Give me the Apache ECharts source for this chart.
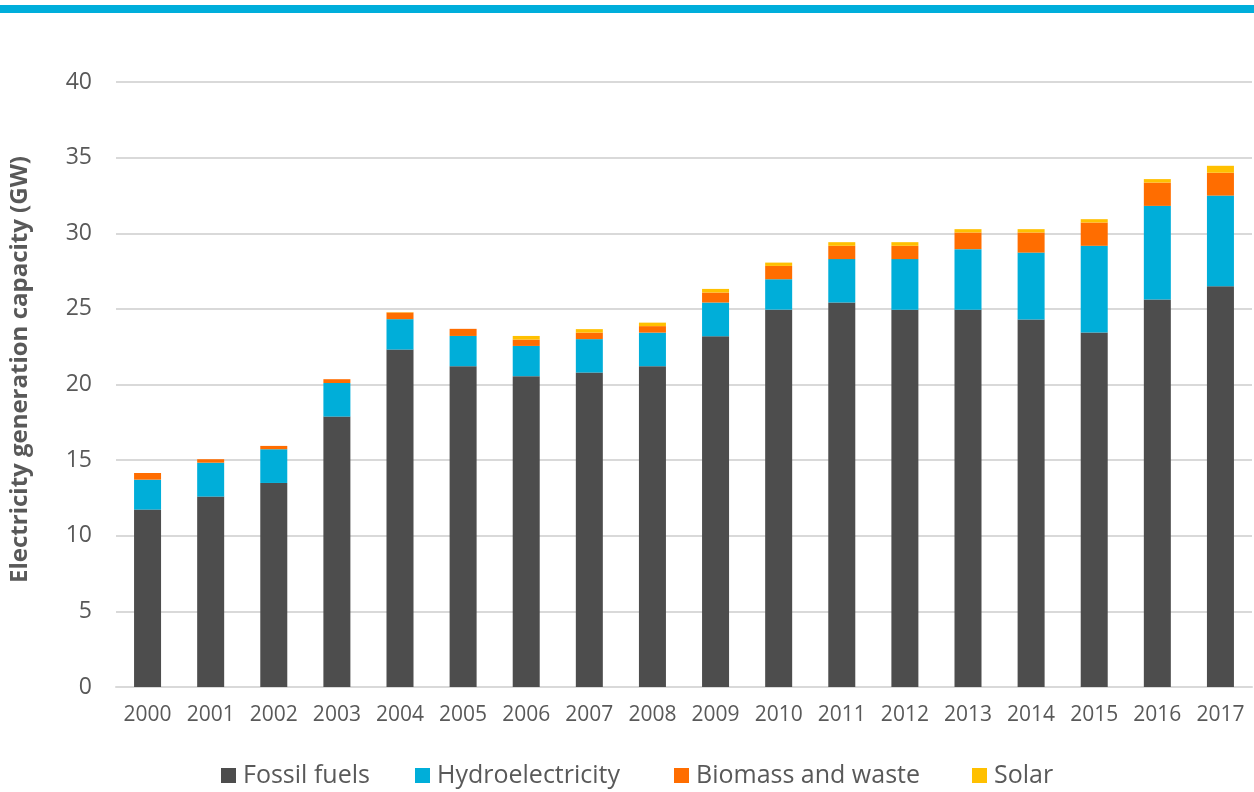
<!DOCTYPE html>
<html>
<head>
<meta charset="utf-8">
<script src="https://cdn.jsdelivr.net/npm/echarts@6/dist/echarts.min.js"></script>
<style>html,body{margin:0;padding:0;background:#fff}#c{width:1254px;height:792px}</style>
</head>
<body>
<div id="c"></div>
<script>
const years = ['2000','2001','2002','2003','2004','2005','2006','2007','2008','2009','2010','2011','2012','2013','2014','2015','2016','2017'];
const fossil = [11.73, 12.59, 13.49, 17.88, 22.31, 21.21, 20.55, 20.79, 21.21, 23.19, 24.95, 25.42, 24.95, 24.95, 24.29, 23.43, 25.62, 26.5];
const hydro = [1.98, 2.24, 2.23, 2.22, 2.01, 2.0, 2.0, 2.21, 2.22, 2.23, 2.01, 2.87, 3.34, 4.0, 4.43, 5.74, 6.19, 5.99];
const biomass = [0.44, 0.23, 0.22, 0.25, 0.44, 0.47, 0.42, 0.43, 0.43, 0.66, 0.88, 0.88, 0.88, 1.10, 1.33, 1.54, 1.54, 1.51];
const solar = [0, 0, 0, 0, 0.02, 0, 0.24, 0.23, 0.23, 0.24, 0.22, 0.24, 0.24, 0.22, 0.22, 0.22, 0.23, 0.46];
const seriesNames = ['Fossil fuels', 'Hydroelectricity', 'Biomass and waste', 'Solar'];
const colors = ['#4d4d4d', '#00aed9', '#ff6d00', '#ffc000'];
const yTitle = 'Electricity generation capacity (GW)';

const FONT = '"Open Sans", Lato, sans-serif';
const TXT = '#595959';
const legendLeft = [216, 410, 669, 967];
const chart = echarts.init(document.getElementById('c'), null, {renderer: 'canvas'});
const dataSets = [fossil, hydro, biomass, solar];
chart.setOption({
  animation: false,
  color: colors,
  graphic: [{type: 'rect', left: 0, top: 5, shape: {width: 1254, height: 8}, style: {fill: '#00aedb'}}],
  grid: {left: 114, right: 2, top: 82, bottom: 105, containLabel: false},
  legend: seriesNames.map((n, i) => ({
    data: [n], top: 758, left: legendLeft[i], itemWidth: 15, itemHeight: 15,
    icon: 'rect',
    textStyle: {fontFamily: FONT, fontSize: 25, color: TXT, padding: [0, 0, 0, 2]}
  })),
  xAxis: {
    type: 'category', data: years,
    axisLine: {show: true, lineStyle: {color: '#d9d9d9', width: 2}},
    axisTick: {show: false},
    axisLabel: {fontFamily: FONT, fontSize: 21, color: TXT, margin: 18, interval: 0}
  },
  yAxis: {
    type: 'value', min: 0, max: 40, interval: 5,
    name: yTitle, nameLocation: 'middle', nameGap: 84, nameRotate: 90,
    nameTextStyle: {fontFamily: FONT, fontSize: 24, fontWeight: 'bold', color: TXT, padding: [0, 0, 0, 30]},
    axisLine: {show: false}, axisTick: {show: false},
    axisLabel: {fontFamily: FONT, fontSize: 23, color: TXT, margin: 24},
    splitLine: {lineStyle: {color: '#d9d9d9', width: 2}}
  },
  series: seriesNames.map((n, i) => ({
    name: n, type: 'bar', stack: 'total', barWidth: 27,
    data: dataSets[i],
    itemStyle: {color: colors[i]}
  }))
});
</script>
</body>
</html>
